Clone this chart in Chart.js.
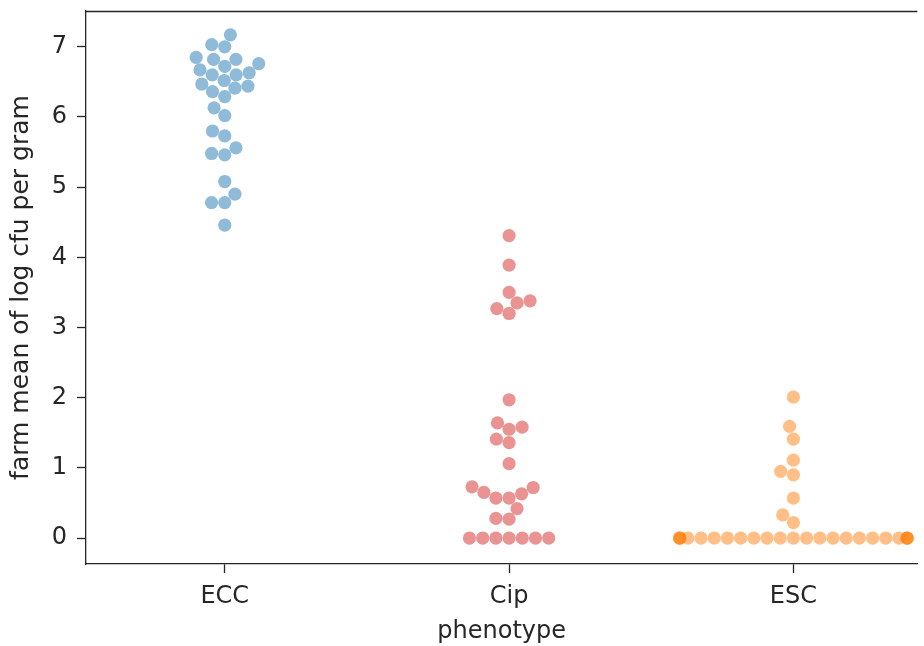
<!DOCTYPE html>
<html>
<head>
<meta charset="utf-8">
<script src="https://cdn.jsdelivr.net/npm/chart.js@4"></script>
<style>
  html, body { margin: 0; padding: 0; background: #fff; }
  #wrap { width: 924px; height: 646px; }
</style>
</head>
<body>
<div id="wrap"><canvas id="chartJS" width="924" height="646"></canvas></div>
<script>
// data
const categories = ['ECC', 'Cip', 'ESC'];
const yTicks = [0, 1, 2, 3, 4, 5, 6, 7];

const ecc = [7.17, 7.03, 7.0, 6.85, 6.82, 6.82, 6.76, 6.72, 6.67, 6.63, 6.60, 6.60,
  6.52, 6.47, 6.44, 6.41, 6.36, 6.29, 6.13, 6.02, 5.80, 5.73, 5.56, 5.48, 5.46,
  5.08, 4.90, 4.78, 4.78, 4.46];
const cip = [4.31, 3.89, 3.50, 3.38, 3.35, 3.27, 3.20, 1.97, 1.64, 1.58, 1.55, 1.41,
  1.36, 1.06, 0.73, 0.72, 0.65, 0.63, 0.57, 0.57, 0.42, 0.28, 0.27,
  0, 0, 0, 0, 0, 0, 0];
const esc = [2.01, 1.59, 1.41, 1.11, 0.95, 0.90, 0.57, 0.33, 0.22,
  0, 0, 0, 0, 0, 0, 0, 0, 0, 0, 0, 0, 0, 0, 0, 0, 0, 0, 0, 0, 0, 0, 0];
const colors = ['rgba(31,119,180,0.5)', 'rgba(214,39,40,0.5)', 'rgba(255,127,14,0.5)'];

const groups = [ecc, cip, esc];
const FONT = "'DejaVu Sans', sans-serif";
const FS = 24;
const DOT = 6.6;
const INK = '#262626';

// beeswarm: place each point as near the centre as possible without overlap (pixel space)
function swarm(py, d) {
  const order = py.map((_, i) => i).sort((a, b) => py[b] - py[a]);
  const placed = [];
  const out = new Array(py.length);
  order.forEach(i => {
    const y = py[i];
    const near = placed.filter(p => Math.abs(p.y - y) < d);
    const cands = [0];
    near.forEach(p => {
      const dx = Math.sqrt(d * d - (p.y - y) * (p.y - y));
      cands.push(p.x - dx, p.x + dx);
    });
    cands.sort((a, b) => Math.abs(a) - Math.abs(b));
    const x = cands.find(c => near.every(p => (p.x - c) ** 2 + (p.y - y) ** 2 >= d * d - 0.01));
    placed.push({ x: x, y: y });
    out[i] = x;
  });
  return out;
}

const frame = {
  id: 'frame',
  afterDraw(chart) {
    const a = chart.chartArea, c = chart.ctx;
    c.save();
    c.strokeStyle = INK;
    c.lineWidth = 1.3;
    c.beginPath();
    c.moveTo(a.left, a.top + 0.5);
    c.lineTo(a.right, a.top + 0.5);
    c.stroke();
    c.restore();
  }
};

const config = {
  type: 'scatter',
  data: {
    datasets: groups.map((vals, gi) => ({
      label: categories[gi],
      data: vals.map(v => ({ x: gi, y: v })),
      backgroundColor: colors[gi],
      borderWidth: 0,
      pointRadius: DOT,
      pointHoverRadius: DOT
    }))
  },
  options: {
    responsive: false,
    animation: false,
    devicePixelRatio: 1,
    layout: { padding: { top: 11, right: 0, bottom: 0, left: 0 } },
    plugins: { legend: { display: false }, tooltip: { enabled: false } },
    scales: {
      x: {
        type: 'linear',
        min: -0.488,
        max: 2.436,
        afterFit: s => { s.height = 82; s.paddingLeft = 0; s.paddingRight = 0; },
        afterBuildTicks: s => { s.ticks = categories.map((_, i) => ({ value: i })); },
        ticks: {
          callback: v => categories[v],
          font: { family: FONT, size: FS },
          color: INK,
          padding: 9,
          maxRotation: 0
        },
        grid: { drawOnChartArea: false, tickLength: 9, color: INK, tickWidth: 1.3 },
        border: { color: INK, width: 1.3 },
        title: {
          display: true, text: 'phenotype',
          font: { family: FONT, size: FS }, color: INK,
          padding: { top: 0, bottom: 0 }
        }
      },
      y: {
        type: 'linear',
        min: -0.37,
        max: 7.51,
        afterFit: s => { s.width = 86; s.paddingTop = 0; s.paddingBottom = 0; },
        afterBuildTicks: s => { s.ticks = yTicks.map(v => ({ value: v })); },
        ticks: {
          font: { family: FONT, size: FS },
          color: INK,
          padding: 10
        },
        grid: { drawOnChartArea: false, tickLength: 9, color: INK, tickWidth: 1.3 },
        border: { color: INK, width: 1.3 },
        title: {
          display: true, text: 'farm mean of log cfu per gram',
          font: { family: FONT, size: 25 }, color: INK,
          padding: { top: 6, bottom: 0 }
        }
      }
    }
  },
  plugins: [frame]
};

const chart = new Chart(document.getElementById('chartJS'), config);

// second pass: spread the points sideways once the scales exist
const sx = chart.scales.x, sy = chart.scales.y;
const half = 0.4 * (sx.getPixelForValue(1) - sx.getPixelForValue(0));
groups.forEach((vals, gi) => {
  const py = vals.map(v => sy.getPixelForValue(v));
  const off = swarm(py, DOT * 2);
  const cx = sx.getPixelForValue(gi);
  chart.data.datasets[gi].data = vals.map((v, i) => ({
    x: sx.getValueForPixel(cx + Math.max(-half, Math.min(half, off[i]))),
    y: v
  }));
});
chart.update();
</script>
</body>
</html>
